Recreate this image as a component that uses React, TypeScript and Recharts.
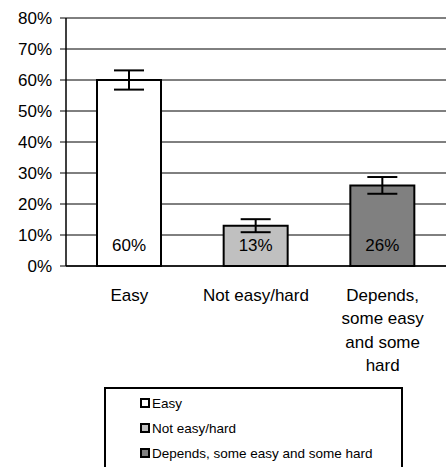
import React from 'react';
import { BarChart, Bar, XAxis, YAxis, CartesianGrid, ErrorBar, Cell, LabelList, Legend } from 'recharts';

const categories = ['Easy', 'Not easy/hard', 'Depends, some easy and some hard'];
const values = [60, 13, 26];
const errors = [3.1, 2.1, 2.7];
const tickLines = [['Easy'], ['Not easy/hard'], ['Depends,', 'some easy', 'and some', 'hard']];
const yTicks = [0, 10, 20, 30, 40, 50, 60, 70, 80];
const colors = ['#ffffff', '#c0c0c0', '#808080'];

const data = categories.map((c, i) => ({ name: c, value: values[i], err: errors[i], idx: i }));

const FONT = '"Liberation Sans", Arial, sans-serif';

const XTick = (props: any) => {
  const { x, y, index } = props;
  const lines = tickLines[index] || [];
  return (
    <g>
      {lines.map((l, i) => (
        <text key={i} x={x} y={y + 35 + i * 23.3} textAnchor="middle" fontSize={17} fill="#000" fontFamily={FONT}>
          {l}
        </text>
      ))}
    </g>
  );
};

const LegendBox = () => (
  <div
    style={{
      width: 299,
      height: 90,
      border: '2px solid #000',
      boxSizing: 'border-box',
      background: '#fff',
      position: 'relative',
      fontFamily: FONT,
      fontSize: 13.5,
    }}
  >
    {categories.map((c, i) => (
      <div key={c} style={{ position: 'absolute', left: 34, top: 5 + i * 25, height: 18, display: 'flex', alignItems: 'center' }}>
        <span style={{ display: 'inline-block', width: 10, height: 10, border: '2px solid #000', boxSizing: 'border-box', background: colors[i], marginRight: 2 }} />
        <span style={{ color: '#000' }}>{c}</span>
      </div>
    ))}
  </div>
);

export default function App() {
  return (
    <div style={{ position: 'absolute', left: 0, top: 0, width: 446, height: 467, overflow: 'hidden', background: '#fff' }}>
      <BarChart
        width={446}
        height={467}
        data={data}
        margin={{ top: 18, right: 0, left: 0, bottom: 171 }}
        style={{ fontFamily: FONT }}
      >
        <CartesianGrid vertical={false} stroke="#000" strokeWidth={1} />
        <YAxis
          width={66}
          domain={[0, 80]}
          ticks={yTicks}
          interval={0}
          tickFormatter={(v: number) => `${v}%`}
          axisLine={{ stroke: '#000', strokeWidth: 1.5 }}
          tickLine={{ stroke: '#000' }}
          tickSize={6}
          tickMargin={8}
          tick={{ fill: '#000', fontSize: 17, fontFamily: FONT }}
        />
        <XAxis
          dataKey="name"
          height={30}
          axisLine={{ stroke: '#000', strokeWidth: 1.5 }}
          tickLine={false}
          tickSize={0}
          tickMargin={0}
          interval={0}
          tick={<XTick />}
        />
        <Bar dataKey="value" barSize={64} stroke="#000" strokeWidth={2} isAnimationActive={false}>
          {data.map((d, i) => (
            <Cell key={d.name} fill={colors[i]} />
          ))}
          <ErrorBar dataKey="err" width={15} stroke="#000" strokeWidth={2} direction="y" />
          <LabelList
            dataKey="value"
            position="insideBottom"
            offset={15}
            formatter={(v: any) => `${v}%`}
            fill="#000"
            fontSize={17}
            fontFamily={FONT}
            stroke="none"
          />
        </Bar>
        <Legend
          layout="vertical"
          align="center"
          verticalAlign="middle"
          content={() => <LegendBox />}
          wrapperStyle={{ left: 104, top: 387, width: 299, height: 90 }}
        />
      </BarChart>
    </div>
  );
}
